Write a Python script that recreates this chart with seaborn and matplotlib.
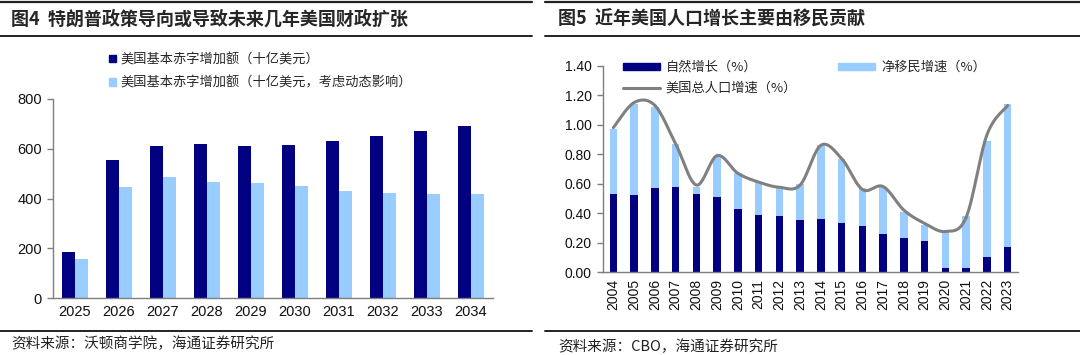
import numpy as np
import pandas as pd
import matplotlib
matplotlib.use("Agg")
import matplotlib.pyplot as plt
import seaborn as sns
from matplotlib.lines import Line2D
from matplotlib.patches import Patch

# ---------------- data ----------------
years_l = ["2025", "2026", "2027", "2028", "2029", "2030", "2031", "2032", "2033", "2034"]
deficit = [186, 555, 610, 620, 610, 617, 633, 650, 670, 690]
deficit_dyn = [155, 447, 486, 467, 463, 450, 431, 424, 418, 419]

years_r = [str(y) for y in range(2004, 2024)]
natural = [0.53, 0.52, 0.57, 0.58, 0.53, 0.51, 0.43, 0.39, 0.38, 0.35,
           0.36, 0.33, 0.31, 0.26, 0.23, 0.21, 0.03, 0.03, 0.10, 0.17]
total_bar = [0.97, 1.14, 1.12, 0.87, 0.58, 0.79, 0.67, 0.61, 0.58, 0.60,
             0.86, 0.77, 0.57, 0.58, 0.41, 0.32, 0.27, 0.38, 0.89, 1.14]
migration = [round(t - n, 2) for t, n in zip(total_bar, natural)]
total_line = [0.98, 1.15, 1.13, 0.87, 0.59, 0.79, 0.67, 0.61, 0.575, 0.59,
              0.86, 0.77, 0.56, 0.58, 0.42, 0.33, 0.275, 0.37, 0.93, 1.13]

lab_l1 = "美国基本赤字增加额（十亿美元）"
lab_l2 = "美国基本赤字增加额（十亿美元，考虑动态影响）"
lab_r1 = "自然增长（%）"
lab_r2 = "净移民增速（%）"
lab_r3 = "美国总人口增速（%）"

DARK = "#000080"
LIGHT = "#99CCFF"
GRAY = "#808080"

sns.set_theme(style="white")
CJK = ["Noto Sans CJK SC", "DejaVu Sans"]
NUM = ["Liberation Sans", "DejaVu Sans"]
plt.rcParams["font.family"] = CJK

W, H = 1080, 355
fig = plt.figure(figsize=(W / 100, H / 100), dpi=100)

def fx(px):
    return px / W

def fy(py):
    return 1 - py / H

# ---------------- header / footer rules and text ----------------
def hline(x0, x1, y, lw=1.5):
    fig.add_artist(Line2D([fx(x0), fx(x1)], [fy(y), fy(y)], color="#222222", lw=lw,
                          transform=fig.transFigure))

for (a, b) in [(0, 532), (545, 1080)]:
    hline(a, b, 2, 1.6)
    hline(a, b, 36, 1.4)
    hline(a, b, 331, 1.4)

fig.text(fx(11), fy(19), "图4  特朗普政策导向或导致未来几年美国财政扩张", fontsize=13,
         fontweight="bold", va="center", ha="left", family=CJK)
fig.text(fx(558), fy(19), "图5  近年美国人口增长主要由移民贡献", fontsize=13,
         fontweight="bold", va="center", ha="left", family=CJK)
fig.text(fx(11), fy(344), "资料来源：沃顿商学院，海通证券研究所", fontsize=10.5,
         va="center", ha="left", family=CJK, color="#222222")
fig.text(fx(558), fy(347), "资料来源：CBO，海通证券研究所", fontsize=10.5,
         va="center", ha="left", family=CJK, color="#222222")

# ---------------- left chart ----------------
axl = fig.add_axes([fx(53), fy(298), fx(493 - 53), (298 - 99) / H])
dfl = pd.DataFrame({
    "year": years_l * 2,
    "value": deficit + deficit_dyn,
    "series": [lab_l1] * len(years_l) + [lab_l2] * len(years_l),
})
sns.barplot(data=dfl, x="year", y="value", hue="series", palette=[DARK, LIGHT],
            width=0.6, gap=0, saturation=1, linewidth=0, ax=axl, legend=False)
axl.set_xlim(-0.5, len(years_l) - 0.5)
axl.set_ylim(0, 800)
axl.set_yticks([0, 200, 400, 600, 800])
axl.set_xlabel("")
axl.set_ylabel("")

# ---------------- right chart ----------------
axr = fig.add_axes([fx(603), fy(272), fx(1018 - 603), (272 - 65.7) / H])
dfr = pd.DataFrame({"year": years_r, "natural": natural, "migration": migration,
                    "total": total_bar})
sns.barplot(data=dfr, x="year", y="total", color=LIGHT, width=0.36, saturation=1,
            linewidth=0, ax=axr)
sns.barplot(data=dfr, x="year", y="natural", color=DARK, width=0.36, saturation=1,
            linewidth=0, ax=axr)

# smoothed line (Catmull-Rom) through the series points
xs = np.arange(len(years_r), dtype=float)
ys = np.array(total_line)
px = np.concatenate([[xs[0]], xs, [xs[-1]]])
py = np.concatenate([[ys[0]], ys, [ys[-1]]])
cx, cy = [], []
for i in range(1, len(px) - 2):
    p0, p1, p2, p3 = py[i - 1], py[i], py[i + 1], py[i + 2]
    q0, q1, q2, q3 = px[i - 1], px[i], px[i + 1], px[i + 2]
    t = np.linspace(0, 1, 25)
    for arr, (a0, a1, a2, a3) in ((cy, (p0, p1, p2, p3)), (cx, (q0, q1, q2, q3))):
        arr.extend(0.5 * ((2 * a1) + (-a0 + a2) * t + (2 * a0 - 5 * a1 + 4 * a2 - a3) * t ** 2
                          + (-a0 + 3 * a1 - 3 * a2 + a3) * t ** 3))
sns.lineplot(x=cx, y=cy, sort=False, color=GRAY, lw=2.2, ax=axr, estimator=None)

axr.set_xlim(-0.5, len(years_r) - 0.5)
axr.set_ylim(0, 1.4)
axr.set_yticks(np.arange(0, 1.41, 0.2))
axr.set_yticklabels([f"{v:.2f}" for v in np.arange(0, 1.41, 0.2)])
axr.set_xlabel("")
axr.set_ylabel("")

# ---------------- common axis styling ----------------
for ax, fsz in ((axl, 10.5), (axr, 10)):
    for s in ("top", "right"):
        ax.spines[s].set_visible(False)
    for s in ("left", "bottom"):
        ax.spines[s].set_color("#7f7f7f")
        ax.spines[s].set_linewidth(1.0)
    n = len(ax.get_xticks())
    ax.set_xticks(np.arange(-0.5, n, 1.0), minor=True)
    ax.tick_params(axis="x", which="major", length=0, pad=5)
    ax.tick_params(axis="x", which="minor", length=4, color="#7f7f7f", width=1, direction="out")
    ax.tick_params(axis="y", which="major", length=4, color="#7f7f7f", width=1, direction="out",
                   left=True, pad=4)
    for lab in ax.get_xticklabels() + ax.get_yticklabels():
        lab.set_family(NUM)
        lab.set_fontsize(fsz)
        lab.set_color("#111111")

for lab in axr.get_xticklabels():
    lab.set_rotation(90)

# ---------------- legends ----------------
hl = [Patch(color=DARK), Patch(color=LIGHT)]
fig.legend(hl, [lab_l1, lab_l2], loc="upper left", bbox_to_anchor=(fx(109), fy(53)),
           frameon=False, fontsize=9.5, handlelength=0.55, handleheight=0.55, handletextpad=0.3,
           labelspacing=0.75, borderaxespad=0, borderpad=0)

hr = [Patch(color=DARK), Line2D([], [], color=GRAY, lw=2.2), Patch(color=LIGHT)]
fig.legend(hr, [lab_r1, lab_r3, lab_r2], loc="upper left", ncol=2,
           bbox_to_anchor=(fx(623), fy(61)), frameon=False, fontsize=9.5,
           handlelength=2.8, handleheight=0.45, handletextpad=0.45,
           labelspacing=0.6, columnspacing=3.1, borderaxespad=0, borderpad=0)

fig.savefig("out.png", dpi=100)
